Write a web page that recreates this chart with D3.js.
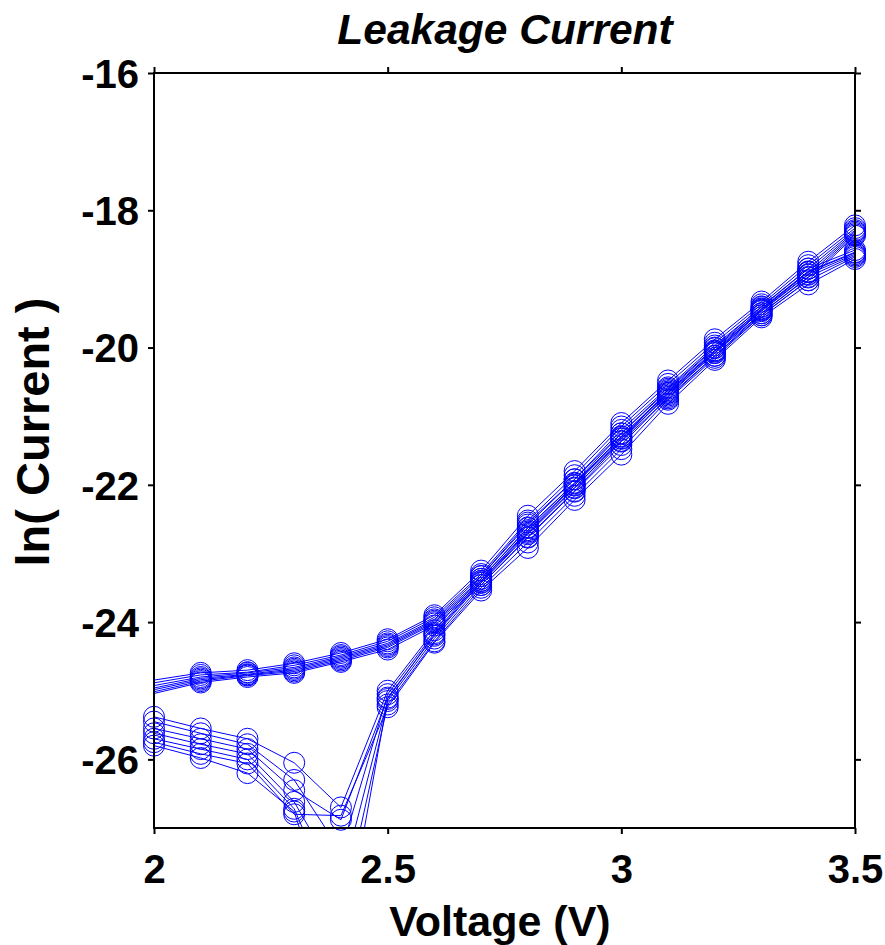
<!DOCTYPE html>
<html><head><meta charset="utf-8">
<script src="https://cdn.jsdelivr.net/npm/d3@7"></script>
<style>body{margin:0;background:#fff;}svg{display:block;}</style>
</head><body>
<script>
// ---- data ----
const xTicks = [2, 2.5, 3, 3.5];
const yTicks = [-16, -18, -20, -22, -24, -26];
const voltsUpper = [1.9, 2.1, 2.2, 2.3, 2.4, 2.5, 2.6, 2.7, 2.8, 2.9, 3.0, 3.1, 3.2, 3.3, 3.4, 3.5];
const voltsLower = [2.0, 2.1, 2.2, 2.3, 2.4, 2.5, 2.6, 2.7, 2.8, 2.9, 3.0, 3.1, 3.2, 3.3, 3.4, 3.5];
const upper1 = [-24.95, -24.74, -24.70, -24.60, -24.45, -24.25, -23.90, -23.25, -22.45, -21.80, -21.10, -20.48, -19.88, -19.33, -18.75, -18.22];
const upper2 = [-25.00, -24.77, -24.73, -24.63, -24.48, -24.28, -23.93, -23.30, -22.52, -21.86, -21.15, -20.53, -19.93, -19.37, -18.80, -18.26];
const upper3 = [-25.05, -24.80, -24.74, -24.66, -24.50, -24.31, -23.96, -23.33, -22.58, -21.92, -21.20, -20.58, -19.97, -19.41, -18.85, -18.29];
const upper4 = [-25.10, -24.82, -24.76, -24.68, -24.52, -24.33, -23.98, -23.37, -22.63, -21.97, -21.25, -20.62, -20.01, -19.44, -18.90, -18.31];
const upper5 = [-25.13, -24.84, -24.77, -24.70, -24.54, -24.35, -24.00, -23.40, -22.68, -22.01, -21.29, -20.66, -20.05, -19.47, -18.94, -18.33];
const upper6 = [-25.17, -24.86, -24.78, -24.72, -24.56, -24.37, -24.02, -23.43, -22.72, -22.05, -21.33, -20.70, -20.08, -19.50, -18.98, -18.35];
const upper7 = [-25.20, -24.88, -24.80, -24.74, -24.58, -24.40, -24.05, -23.46, -22.76, -22.09, -21.37, -20.74, -20.12, -19.53, -19.02, -18.37];
const lower1 = [-25.38, -25.55, -25.70, -26.05, -26.70, -25.00, -24.12, -23.33, -22.55, -21.92, -21.25, -20.60, -20.00, -19.40, -18.85, -18.58];
const lower2 = [-25.45, -25.62, -25.78, -26.30, -27.35, -25.05, -24.16, -23.37, -22.62, -21.98, -21.30, -20.64, -20.04, -19.43, -18.89, -18.61];
const lower3 = [-25.55, -25.70, -25.85, -26.45, -26.88, -25.10, -24.20, -23.42, -22.70, -22.04, -21.36, -20.68, -20.08, -19.46, -18.93, -18.64];
const lower4 = [-25.62, -25.78, -25.92, -26.62, -27.80, -25.15, -24.24, -23.46, -22.77, -22.10, -21.42, -20.72, -20.12, -19.50, -18.97, -18.66];
const lower5 = [-25.70, -25.85, -26.00, -26.72, -28.30, -25.20, -24.28, -23.50, -22.84, -22.16, -21.48, -20.76, -20.15, -19.53, -19.02, -18.68];
const lower6 = [-25.75, -25.92, -26.06, -26.80, -26.82, -25.24, -24.30, -23.54, -22.92, -22.22, -21.56, -20.82, -20.18, -19.56, -19.08, -18.71];
const lower7 = [-25.80, -25.98, -26.20, -26.76, -28.90, -25.12, -24.18, -23.40, -22.66, -22.00, -21.32, -20.66, -20.06, -19.45, -18.90, -18.62];

const upperCurves = [upper1, upper2, upper3, upper4, upper5, upper6, upper7];
const lowerCurves = [lower1, lower2, lower3, lower4, lower5, lower6, lower7];

// ---- layout ----
const W = 885, H = 945;
const L = 154, R = 855, T = 73, B = 828;
const x = d3.scaleLinear().domain([2, 3.5]).range([L, R]);
const y = d3.scaleLinear().domain([-27, -16]).range([B, T]);

const svg = d3.select("body").append("svg").attr("width", W).attr("height", H);
svg.append("defs").append("clipPath").attr("id", "clip")
  .append("rect").attr("x", L).attr("y", T).attr("width", R - L).attr("height", B - T);

const font = "'Liberation Sans', Arial, sans-serif";
const blue = "#0000ff";

const series = [];
upperCurves.forEach(vals => series.push(vals.map((v, i) => ({ x: voltsUpper[i], y: v }))));
lowerCurves.forEach(vals => series.push(vals.map((v, i) => ({ x: voltsLower[i], y: v }))));

const line = d3.line().x(d => x(d.x)).y(d => y(d.y));
const plot = svg.append("g");
plot.append("g").attr("clip-path", "url(#clip)")
  .selectAll("path").data(series).join("path")
  .attr("d", line).attr("fill", "none").attr("stroke", blue).attr("stroke-width", 1);

const inside = d => d.x >= 2 && d.x <= 3.5 && d.y >= -27 && d.y <= -16;
plot.append("g").selectAll("g").data(series).join("g")
  .selectAll("circle").data(s => s.filter(inside)).join("circle")
  .attr("cx", d => x(d.x)).attr("cy", d => y(d.y)).attr("r", 10.5)
  .attr("fill", "none").attr("stroke", blue).attr("stroke-width", 1);

// ---- axes box ----
const axisColor = "#000";
const fmt = d => String(d);
svg.append("g").attr("transform", `translate(0,${B})`)
  .call(d3.axisBottom(x).tickValues(xTicks).tickSize(6).tickFormat(fmt))
  .call(g => g.select(".domain").remove())
  .call(g => g.selectAll("line").attr("stroke", axisColor).attr("stroke-width", 2))
  .call(g => g.selectAll("text").attr("font-family", font).attr("font-weight", "bold")
    .attr("font-size", 40).attr("fill", "#000").attr("dy", "0").attr("y", 55));
svg.append("g").attr("transform", `translate(0,${T})`)
  .call(d3.axisTop(x).tickValues(xTicks).tickSize(6).tickFormat(""))
  .call(g => g.select(".domain").remove())
  .call(g => g.selectAll("line").attr("stroke", axisColor).attr("stroke-width", 2));
svg.append("g").attr("transform", `translate(${L},0)`)
  .call(d3.axisLeft(y).tickValues(yTicks).tickSize(6).tickFormat(fmt))
  .call(g => g.select(".domain").remove())
  .call(g => g.selectAll("line").attr("stroke", axisColor).attr("stroke-width", 2))
  .call(g => g.selectAll("text").attr("font-family", font).attr("font-weight", "bold")
    .attr("font-size", 40).attr("fill", "#000").attr("x", -15).attr("dy", "0.36em"));
svg.append("g").attr("transform", `translate(${R},0)`)
  .call(d3.axisRight(y).tickValues(yTicks).tickSize(6).tickFormat(""))
  .call(g => g.select(".domain").remove())
  .call(g => g.selectAll("line").attr("stroke", axisColor).attr("stroke-width", 2));

svg.append("rect").attr("x", L).attr("y", T).attr("width", R - L).attr("height", B - T)
  .attr("fill", "none").attr("stroke", axisColor).attr("stroke-width", 2);

// ---- titles ----
svg.append("text").attr("x", 505).attr("y", 44).attr("text-anchor", "middle")
  .attr("font-family", font).attr("font-weight", "bold").attr("font-style", "italic")
  .attr("font-size", 42.5).text("Leakage Current");
svg.append("text").attr("x", 500).attr("y", 936).attr("text-anchor", "middle")
  .attr("font-family", font).attr("font-weight", "bold").attr("font-size", 43).text("Voltage (V)");
svg.append("text").attr("transform", `translate(49,432) rotate(-90)`)
  .attr("text-anchor", "middle")
  .attr("font-family", font).attr("font-weight", "bold").attr("font-size", 47).text("ln( Current )");
</script>
</body></html>
